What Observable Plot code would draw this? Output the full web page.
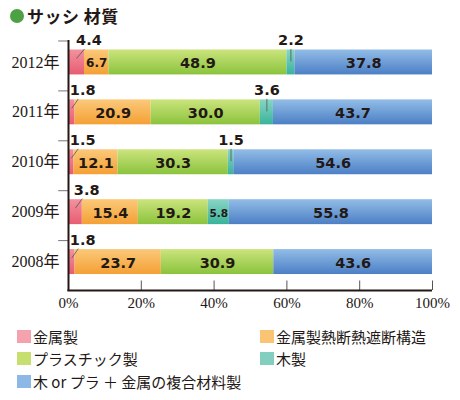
<!DOCTYPE html>
<html><head><meta charset="utf-8">
<script src="https://cdn.jsdelivr.net/npm/d3@7"></script>
<script src="https://cdn.jsdelivr.net/npm/@observablehq/plot@0.6"></script>
<style>
body{margin:0;background:#fff;width:460px;height:400px;overflow:hidden;font-family:"Noto Sans CJK JP",sans-serif;color:#231815}
#title{height:28px;position:relative}
#title .dot{position:absolute;left:10px;top:9px;width:14px;height:14px;border-radius:50%;background:#4ea044}
#title .t{position:absolute;left:27px;top:4px;font-size:17px;font-weight:bold;line-height:24px;letter-spacing:0.5px}
#chart svg{display:block}
#legend{display:grid;grid-template-columns:243px auto;grid-auto-rows:22.5px;padding-left:17px;margin-top:7px;font-size:15px}
#legend .item{display:flex;align-items:center;white-space:nowrap}
#legend .sw{width:14px;height:13px;margin-right:2px;flex:none}
</style></head><body>
<div id="title"><span class="dot"></span><span class="t">サッシ 材質</span></div>
<div id="chart"></div>
<div id="legend"></div>
<script>
// ---- data ----
const years = ["2012年","2011年","2010年","2009年","2008年"];
const seriesNames = ["金属製","金属製熱断熱遮断構造","プラスチック製","木製","木 or プラ ＋ 金属の複合材料製"];
const metal     = [4.4, 1.8, 1.5, 3.8, 1.8];
const thermal   = [6.7, 20.9, 12.1, 15.4, 23.7];
const plastic   = [48.9, 30.0, 30.3, 19.2, 30.9];
const wood      = [2.2, 3.6, 1.5, 5.8, 0];
const composite = [37.8, 43.7, 54.6, 55.8, 43.6];
const xTicks = [0, 20, 40, 60, 80, 100];
const xTickLabels = ["0%","20%","40%","60%","80%","100%"];

// ---- styles ----
const gradTop    = ["#f3929e","#fbc97a","#cbe47d","#88d5c5","#92bde7"];
const gradBottom = ["#e85c72","#f4a035","#8bc33d","#3ab39b","#4c7fc5"];
const legendColors = ["#f4a3ae","#fbc474","#c6df6f","#82cfc0","#8db8e6"];
const ink = "#231815";

const series = [metal, thermal, plastic, wood, composite];
const rows = [];
years.forEach((year, i) => {
  let acc = 0;
  series.forEach((vals, k) => {
    const v = vals[i];
    rows.push({k, i, year, v, x1: acc, x2: acc + v});
    acc += v;
  });
});

const yTop = -0.44, yBot = 4.57;
const half = 0.25;
const bold = {fontFamily: "DejaVu Sans", fontWeight: "bold", fill: ink};

const marks = [];
series.forEach((_, k) => {
  marks.push(Plot.rect(rows.filter(d => d.k === k && d.v > 0), {
    x1: "x1", x2: "x2", y1: d => d.i - half, y2: d => d.i + half, fill: `url(#g${k})`
  }));
});

// inside labels
marks.push(Plot.text(rows.filter(d => d.k > 0 && d.v >= 5), {
  x: d => (d.x1 + d.x2) / 2, y: "i", text: d => d.v.toFixed(1),
  fontSize: d => d.v < 6 ? 10.5 : d.v < 8 ? 12 : 14.5, ...bold,
  dy: 1
}));

// metal labels outside with diagonal leader
const metalRows = rows.filter(d => d.k === 0 && d.v > 0);
const metalLabelX = d => Math.max(d.v + 1.2, 3.9);
marks.push(Plot.link(metalRows, {
  x1: d => d.v / 2, y1: d => d.i - 0.08,
  x2: d => metalLabelX(d) - 1.2, y2: d => d.i - 0.27,
  stroke: "#555", strokeWidth: 0.8
}));
marks.push(Plot.text(metalRows, {
  x: metalLabelX, y: d => d.i + yTop, text: d => d.v.toFixed(1), fontSize: 14.5, ...bold
}));

// small wood labels outside with vertical leader
const woodRows = rows.filter(d => d.k === 3 && d.v > 0 && d.v < 5);
marks.push(Plot.link(woodRows, {
  x1: d => (d.x1 + d.x2) / 2, x2: d => (d.x1 + d.x2) / 2,
  y1: d => d.i - 0.27, y2: d => d.i - 0.02,
  stroke: "#555", strokeWidth: 0.8
}));
marks.push(Plot.text(woodRows, {
  x: d => (d.x1 + d.x2) / 2, y: d => d.i + yTop, text: d => d.v.toFixed(1), fontSize: 14.5, ...bold
}));

// axes
marks.push(Plot.ruleY(years.map((_, i) => i - 0.43), {y: d => d, x1: -2.7, x2: 0, stroke: "#777", strokeWidth: 1}));
marks.push(Plot.ruleX(xTicks.filter(t => t > 0), {x: d => d, y1: yBot, y2: yBot - 0.19, stroke: "#555", strokeWidth: 1}));
marks.push(Plot.ruleX([0], {y1: yTop, y2: yBot, stroke: ink, strokeWidth: 2}));
marks.push(Plot.ruleY([yBot], {x1: -0.2, x2: 100, stroke: ink, strokeWidth: 2}));
marks.push(Plot.text(xTicks, {
  x: d => d, y: yBot, dy: 13, text: (d, j) => xTickLabels[j],
  fontFamily: "Liberation Serif", fontSize: 15, fill: ink
}));
marks.push(Plot.text(years, {
  x: 0, y: (d, i) => i, dx: -9, text: d => d, textAnchor: "end",
  fontFamily: "Liberation Serif, Noto Sans CJK JP", fontSize: 16, fill: ink
}));

const svg = Plot.plot({
  width: 460, height: 290,
  marginLeft: 68, marginRight: 28, marginTop: 12, marginBottom: 28,
  x: {domain: [0, 100], axis: null},
  y: {domain: [yTop, yBot], reverse: true, axis: null},
  style: {background: "#fff", overflow: "visible"},
  marks
});

const defs = d3.select(svg).insert("defs", ":first-child");
gradTop.forEach((c, k) => {
  const g = defs.append("linearGradient").attr("id", `g${k}`)
    .attr("x1", 0).attr("y1", 0).attr("x2", 0).attr("y2", 1);
  g.append("stop").attr("offset", "0%").attr("stop-color", c);
  g.append("stop").attr("offset", "100%").attr("stop-color", gradBottom[k]);
});
document.getElementById("chart").appendChild(svg);

const legend = d3.select("#legend");
seriesNames.forEach((name, k) => {
  const it = legend.append("div").attr("class", "item");
  it.append("span").attr("class", "sw").style("background", legendColors[k]);
  it.append("span").text(name);
});
</script>
</body></html>
